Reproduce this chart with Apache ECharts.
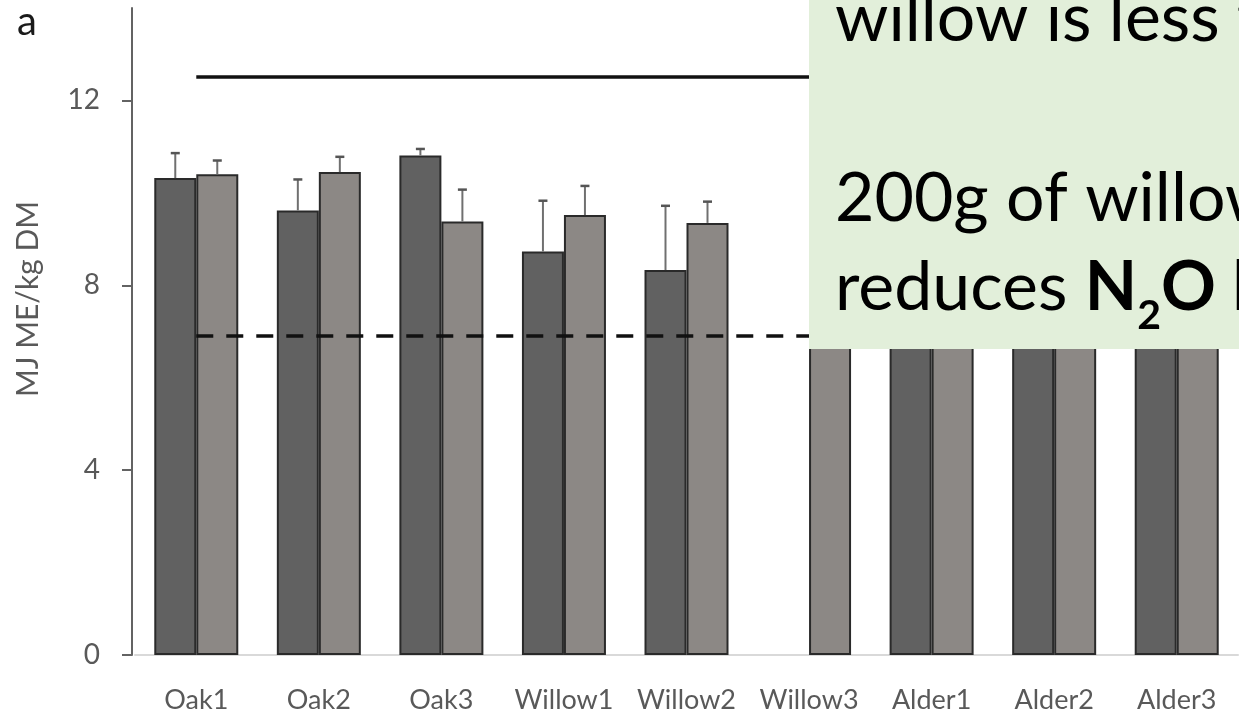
<!DOCTYPE html>
<html>
<head>
<meta charset="utf-8">
<script src="https://cdn.jsdelivr.net/npm/echarts@6/dist/echarts.min.js"></script>
<style>
  html, body { margin: 0; padding: 0; background: #ffffff; }
  #chart { width: 1239px; height: 715px; }
</style>
</head>
<body>
<div id="chart"></div>
<script>
// Metabolisable energy of browse samples (two treatments per sample)
const categories = ['Oak1', 'Oak2', 'Oak3', 'Willow1', 'Willow2', 'Willow3', 'Alder1', 'Alder2', 'Alder3'];
const darkMeans  = [10.32, 9.62, 10.81, 8.73, 8.33, null, 9.6, 9.9, 10.2];
const darkErr    = [0.54, 0.67, 0.14, 1.10, 1.39, null, 0.5, 0.5, 0.5];
const lightMeans = [10.40, 10.45, 9.38, 9.52, 9.35, 9.1, 9.8, 10.1, 10.0];
const lightErr   = [0.30, 0.33, 0.69, 0.63, 0.46, 0.5, 0.4, 0.4, 0.4];
const yTicks = [0, 4, 8, 12];
const refUpper = 12.52;   // solid reference line
const refLower = 6.9;     // dashed reference line

const panelLetter = 'a';
const yTitle = 'MJ ME/kg DM';
const noteLine1 = 'willow is less than';
const noteLine2 = '200g of willow';
const noteLine3a = 'reduces ';
const noteLine3b = 'N';
const noteLine3c = '2';
const noteLine3d = 'O l';

const FONT = 'Lato';
const BAR_W = 42;
const chart = echarts.init(document.getElementById('chart'), null, { renderer: 'canvas' });

// text metrics for placing the inline subscript
const ctx = document.createElement('canvas').getContext('2d');
function textWidth(str, font) { ctx.font = font; return ctx.measureText(str).width; }

const NOTE_SIZE = 68;
const SUB_SIZE = 41;
const noteX = 835;
const fNorm = NOTE_SIZE + 'px ' + FONT;
const fBold = 'bold ' + NOTE_SIZE + 'px ' + FONT;
const fSub = 'bold ' + SUB_SIZE + 'px ' + FONT;
const mid = (baseline, size) => baseline - 0.35 * size;

const x3b = noteX + textWidth(noteLine3a, fNorm);
const x3c = x3b + textWidth(noteLine3b, fBold);
const x3d = x3c + textWidth(noteLine3c, fSub);

function noteText(str, x, baseline, font, size) {
  return {
    type: 'text', x: x, y: mid(baseline, size), z: 101, silent: true,
    style: { text: str, font: font, fill: '#000000', align: 'left', verticalAlign: 'middle',
             textAlign: 'left', textVerticalAlign: 'middle' }
  };
}

function errorBars(means, errs, side) {
  const data = [];
  means.forEach((m, i) => { if (m != null && errs[i] != null) data.push([i, m, errs[i]]); });
  return {
    type: 'custom',
    z: 3,
    silent: true,
    data: data,
    encode: { x: 0, y: 1 },
    renderItem(params, api) {
      const i = api.value(0), m = api.value(1), e = api.value(2);
      const b = api.coord([i, m]);
      const t = api.coord([i, m + e]);
      const x = b[0] + side * BAR_W / 2;
      return {
        type: 'group',
        children: [
          { type: 'line', shape: { x1: x, y1: b[1], x2: x, y2: t[1] },
            style: { stroke: '#707070', lineWidth: 2 } },
          { type: 'line', shape: { x1: x - 4.5, y1: t[1], x2: x + 4.5, y2: t[1] },
            style: { stroke: '#555555', lineWidth: 2.5 } }
        ]
      };
    }
  };
}

const option = {
  animation: false,
  backgroundColor: '#ffffff',
  grid: { left: 135, right: 1, top: 8, bottom: 60, containLabel: false },
  xAxis: {
    type: 'category',
    data: categories,
    axisLine: { show: true, lineStyle: { color: '#d9d9d9', width: 2 } },
    axisTick: { show: false },
    axisLabel: { color: '#595959', fontFamily: FONT, fontSize: 27, margin: 32, interval: 0 },
    splitLine: { show: false }
  },
  yAxis: {
    type: 'value',
    min: 0, max: 14, interval: 4,
    offset: 3,
    axisLine: { show: true, lineStyle: { color: '#636363', width: 2 } },
    axisTick: { show: true, length: 10, customValues: yTicks, lineStyle: { color: '#636363', width: 2 } },
    axisLabel: { color: '#595959', fontFamily: FONT, fontSize: 28, margin: 32, customValues: yTicks },
    splitLine: { show: false }
  },
  series: [
    {
      type: 'bar', name: 'dark',
      data: darkMeans.map(v => v == null ? '-' : v),
      barWidth: BAR_W, barGap: '0%',
      itemStyle: { color: '#616161', borderColor: '#2a2a2a', borderWidth: 2 }
    },
    {
      type: 'bar', name: 'light',
      data: lightMeans,
      barWidth: BAR_W, barGap: '0%',
      itemStyle: { color: '#8c8885', borderColor: '#2a2a2a', borderWidth: 2 }
    },
    errorBars(darkMeans, darkErr, -1),
    errorBars(lightMeans, lightErr, 1),
    {
      // reference levels, anchored at category centres
      type: 'line', name: 'reference', data: [], z: 4, silent: true,
      markLine: {
        silent: true, symbol: 'none', label: { show: false },
        emphasis: { disabled: true },
        data: [
          [{ coord: [categories[0], refUpper], lineStyle: { color: '#111111', width: 3.5, type: 'solid' } },
           { coord: [categories[categories.length - 1], refUpper] }],
          [{ coord: [categories[0], refLower], lineStyle: { color: '#111111', width: 3.5, type: [17, 13] } },
           { coord: [categories[categories.length - 1], refLower] }]
        ]
      }
    }
  ],
  graphic: [
    { type: 'text', x: 17, y: 22, z: 50, silent: true,
      style: { text: panelLetter, font: '40px ' + FONT, fill: '#1a1a1a',
               align: 'left', verticalAlign: 'middle', textAlign: 'left', textVerticalAlign: 'middle' } },
    { type: 'text', x: 28, y: 299, rotation: Math.PI / 2, z: 50, silent: true,
      style: { text: yTitle, font: '30px ' + FONT, fill: '#595959',
               align: 'center', verticalAlign: 'middle', textAlign: 'center', textVerticalAlign: 'middle' } },
    { type: 'rect', z: 100, silent: true,
      shape: { x: 809, y: -5, width: 450, height: 354 },
      style: { fill: '#e2efda' } },
    noteText(noteLine1, noteX, 43, fNorm, NOTE_SIZE),
    noteText(noteLine2, noteX, 223, fNorm, NOTE_SIZE),
    noteText(noteLine3a, noteX, 312, fNorm, NOTE_SIZE),
    noteText(noteLine3b, x3b, 312, fBold, NOTE_SIZE),
    noteText(noteLine3c, x3c, 330, fSub, SUB_SIZE),
    noteText(noteLine3d, x3d, 312, fBold, NOTE_SIZE)
  ]
};

chart.setOption(option);
</script>
</body>
</html>
